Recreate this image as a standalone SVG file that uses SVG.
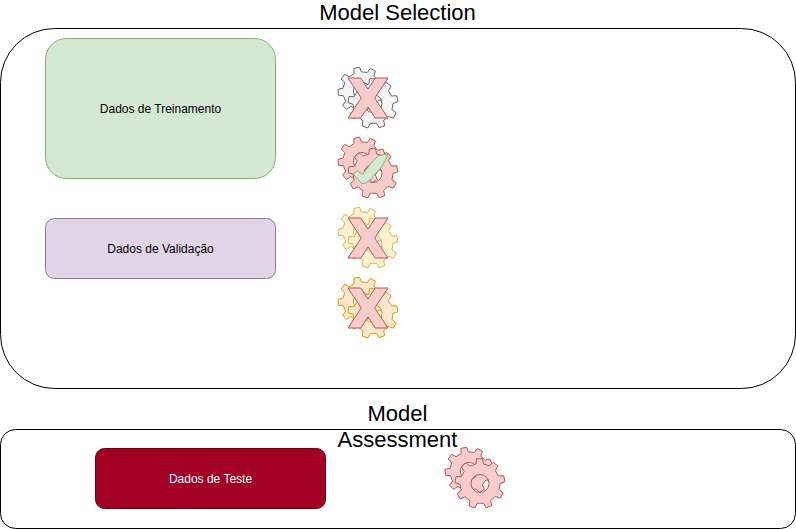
<svg xmlns="http://www.w3.org/2000/svg" width="796" height="529" viewBox="0 0 796 529">
<style>
text{font-family:"Liberation Sans",Arial,sans-serif;text-anchor:middle}
.t{font-size:22px;fill:#000}
.l{font-size:12px;fill:#000}
.p{vector-effect:non-scaling-stroke;stroke-width:1;fill-rule:evenodd}
.grey{fill:#f5f5f5;stroke:#666666}
.red{fill:#f8cecc;stroke:#b85450}
.yellow{fill:#fff2cc;stroke:#d6b656}
.orange{fill:#ffe6cc;stroke:#d79b00}
.green{fill:#d5e8d4;stroke:#82b366}
.box{fill:#fff;stroke:#000;stroke-width:1}
</style>
<defs>
<path id="wheel" class="p" d="M18.54-7.49L23.78-7.73 24.94-1.74 20 0 19.02 6.18 23.18 9.37 20.23 14.69 15.32 12.86 10.6 16.96 11.74 22.07 6.05 24.26 3.47 19.7-2.78 19.81-5.2 24.45-10.96 22.47-10 17.32-14.86 13.38-19.7 15.39-22.84 10.17-18.79 6.84-19.99.7-24.98-.87-24.03-6.89-18.79-6.84-15.76-12.31-18.58-16.73-13.98-20.73-10-17.32-4.16-19.56-3.48-24.76 2.61-24.86 3.47-19.7 9.39-17.66 13.25-21.2 17.98-17.37 15.32-12.86 18.54-7.49ZM9 0A9 9 0 1 0-9 0A9 9 0 1 0 9 0Z"/>
<g id="gear">
<use href="#wheel" transform="translate(24 23) rotate(-12) scale(.96)"/>
<use href="#wheel" transform="translate(35 35.5)"/>
</g>
<path id="x" d="M0 0H12.7L20 11 27.3 0H40L26.7 20 40 40H27.3L20 29 12.7 40H0L13.3 20Z"/>
</defs>
<rect width="796" height="529" fill="#fff"/>
<g id="connectors"/>
<g id="model-selection">
<rect class="box" x="0.5" y="28.5" width="795" height="360" rx="54" ry="54"/>
<text class="t" x="397.5" y="20">Model Selection</text>
</g>
<g id="model-assessment">
<rect class="box" x="0.5" y="429.5" width="795" height="99" rx="15" ry="15"/>
<text class="t" x="397.5" y="421">Model</text>
<text class="t" x="397.5" y="447">Assessment</text>
</g>
<g id="treino">
<rect x="45.5" y="38.5" width="230" height="140" rx="21" ry="21" fill="#d5e8d4" stroke="#82b366"/>
<text class="l" x="160.5" y="113">Dados de Treinamento</text>
</g>
<g id="validacao">
<rect x="45.5" y="218.5" width="230" height="60" rx="9" ry="9" fill="#e1d5e7" stroke="#9673a6"/>
<text class="l" x="160.5" y="253">Dados de Validação</text>
</g>
<g id="teste">
<rect x="95.5" y="448.5" width="230" height="60" rx="9" ry="9" fill="#a20025" stroke="#6f0000"/>
<text class="l" x="210.5" y="483" style="fill:#fff">Dados de Teste</text>
</g>
<g id="gear-1"><g class="grey" transform="translate(338 68)"><use href="#gear"/></g><use href="#x" class="red" x="348" y="78"/></g>
<g id="gear-2"><g class="red" transform="translate(338 138)"><use href="#gear"/></g><path class="green" d="M353.3 174L357.3 171 362.7 174.3C368 167 373 160 378.3 155.7L387.7 154C386 160 384 163 381.7 166.7C376 173 372 178 366.7 182.7L361.7 183.7Z"/></g>
<g id="gear-3"><g class="yellow" transform="translate(338 208)"><use href="#gear"/></g><use href="#x" class="red" x="348" y="218"/></g>
<g id="gear-4"><g class="orange" transform="translate(338 278)"><use href="#gear"/></g><use href="#x" class="red" x="348" y="288"/></g>
<g id="gear-5"><g class="red" transform="translate(445 448)"><use href="#gear"/></g></g>
</svg>
